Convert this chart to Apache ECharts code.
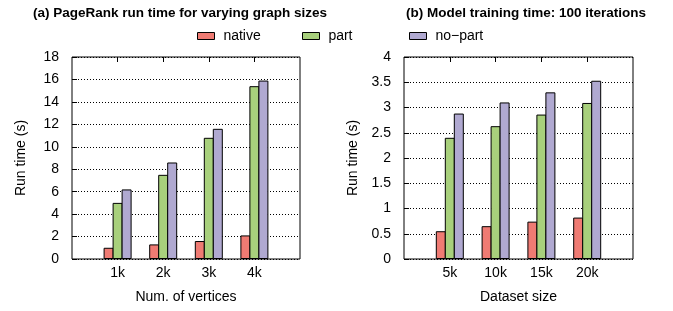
<!DOCTYPE html>
<html>
<head>
<meta charset="utf-8">
<script src="https://cdn.jsdelivr.net/npm/echarts@6/dist/echarts.min.js"></script>
<style>
  html, body { margin: 0; padding: 0; background: #fff; }
  #chart { width: 673px; height: 311px; }
</style>
</head>
<body>
<div id="chart"></div>
<script>
  // (a) PageRank
  var sizesA = ['1k', '2k', '3k', '4k'];
  var nativeA = [1.0, 1.3, 1.6, 2.1];
  var partA = [5.0, 7.5, 10.8, 15.4];
  var noPartA = [6.2, 8.6, 11.6, 15.9];

  // (b) model training
  var sizesB = ['5k', '10k', '15k', '20k'];
  var nativeB = [0.55, 0.65, 0.74, 0.82];
  var partB = [2.40, 2.63, 2.86, 3.09];
  var noPartB = [2.88, 3.10, 3.30, 3.53];

  var names = ['native', 'part', 'no\u2212part'];
  var colors = ['#ef7b73', '#a8d07c', '#b0a9d1'];

  var font = 'Liberation Sans';

  // pad one empty slot at both ends so the groups sit at 1..4 of 0..5
  function pad(arr) {
    return [''].concat(arr, ['']);
  }
  function padData(arr) {
    return ['-'].concat(arr, ['-']);
  }

  function xAxes(cats, gridIndex, axisName) {
    return [{
      type: 'category',
      gridIndex: gridIndex,
      data: pad(cats),
      boundaryGap: false,
      axisLine: { show: false },
      axisTick: { show: false },
      axisLabel: { color: '#000', fontSize: 14, fontFamily: font, margin: 7 },
      name: axisName,
      nameLocation: 'middle',
      nameGap: 31,
      nameTextStyle: { color: '#000', fontSize: 14, fontFamily: font }
    }, {
      type: 'category',
      gridIndex: gridIndex,
      position: 'top',
      data: pad(cats),
      boundaryGap: false,
      axisLine: { show: false },
      axisTick: {
        show: true, inside: true, length: 5,
        interval: function (i) { return i > 0 && i < cats.length + 1; },
        lineStyle: { color: '#000' }
      },
      axisLabel: { show: false }
    }];
  }

  function yAxis(gridIndex, max, interval) {
    return {
      type: 'value',
      gridIndex: gridIndex,
      min: 0,
      max: max,
      interval: interval,
      axisLine: { show: false },
      axisTick: { show: true, inside: true, length: 5, lineStyle: { color: '#000' } },
      axisLabel: { color: '#000', fontSize: 14, fontFamily: font, margin: 13 },
      splitLine: { lineStyle: { color: '#000', type: [1, 2], width: 1 } },
      name: 'Run time (s)',
      nameLocation: 'middle',
      nameGap: 44,
      nameTextStyle: { color: '#000', fontSize: 14, fontFamily: font }
    };
  }

  function bars(data, idx, axisIdx) {
    return {
      name: names[idx],
      type: 'bar',
      xAxisIndex: axisIdx,
      yAxisIndex: axisIdx / 2,
      data: padData(data),
      barWidth: 10,
      barGap: '-10%',
      itemStyle: { color: colors[idx], borderColor: '#000', borderWidth: 1 },
      emphasis: { disabled: true }
    };
  }

  function legend(idx, left) {
    return {
      data: [names[idx]],
      left: left,
      top: 24,
      icon: 'rect',
      itemWidth: 17,
      itemHeight: 7,
      itemGap: 8,
      formatter: function (name) { return ' ' + name; },
      itemStyle: { borderColor: '#000', borderWidth: 1 },
      textStyle: { color: '#000', fontSize: 14, fontFamily: font }
    };
  }

  var chart = echarts.init(document.getElementById('chart'), null, { renderer: 'canvas' });
  chart.setOption({
    animation: false,
    title: [{
      text: '(a) PageRank run time for varying graph sizes',
      left: 175, top: 1, textAlign: 'center',
      textStyle: { fontSize: 13.5, fontWeight: 'bold', color: '#000', fontFamily: font }
    }, {
      text: '(b) Model training time: 100 iterations',
      left: 521, top: 1, textAlign: 'center',
      textStyle: { fontSize: 13.5, fontWeight: 'bold', color: '#000', fontFamily: font }
    }],
    legend: [legend(0, 192), legend(1, 297), legend(2, 404)],
    grid: [
      { left: 72, top: 57, width: 228, height: 202, show: true, borderColor: '#000', borderWidth: 1, backgroundColor: 'transparent' },
      { left: 404, top: 57, width: 229, height: 202, show: true, borderColor: '#000', borderWidth: 1, backgroundColor: 'transparent' }
    ],
    xAxis: xAxes(sizesA, 0, 'Num. of vertices').concat(xAxes(sizesB, 1, 'Dataset size')),
    yAxis: [yAxis(0, 18, 2), yAxis(1, 4, 0.5)],
    series: [
      bars(nativeA, 0, 0), bars(partA, 1, 0), bars(noPartA, 2, 0),
      bars(nativeB, 0, 2), bars(partB, 1, 2), bars(noPartB, 2, 2)
    ]
  });
</script>
</body>
</html>
